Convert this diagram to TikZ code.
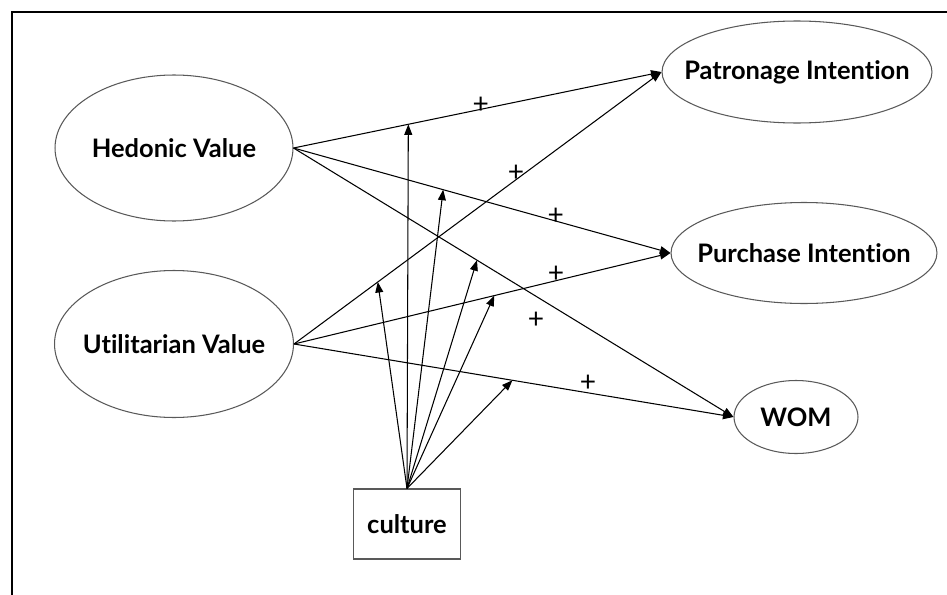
\documentclass[tikz,border=0pt]{standalone}
\usepackage{fontspec}
\setmainfont{Lato}[Ligatures=NoCommon]
\usetikzlibrary{shapes.geometric,arrows.meta}
\begin{document}
\begin{tikzpicture}[x=0.02cm,y=-0.02cm]
\tikzstyle{every node}+=[inner sep=0pt, font=\fontsize{14.5}{17}\selectfont\bfseries]
\tikzstyle{construct}=[draw=black!65, ellipse, line width=0.6pt, inner xsep=-12pt]
\tikzstyle{moderator}=[draw=black!65, rectangle, line width=0.6pt, minimum width=2.14cm, minimum height=1.4cm]
\tikzstyle{link}=[-{Triangle[length=6pt,width=4.5pt]}, line width=0.6pt]
\tikzstyle{sign}=[font=\fontsize{16}{17}\selectfont\mdseries]
\useasboundingbox (0,0) rectangle (947,595);
\draw [line width=1.1pt] (12,595) -- (12,12) -- (947,12);
\node [construct, minimum width=4.76cm, minimum height=2.92cm] (hed) at (174,148) {Hedonic Value};
\node [construct, minimum width=4.78cm, minimum height=2.94cm] (util) at (174,344) {Utilitarian Value};
\node [construct, minimum width=5.4cm, minimum height=2.04cm] (pat) at (797,72) {Patronage Intention};
\node [construct, minimum width=5.32cm, minimum height=2.02cm] (pur) at (804,253) {Purchase Intention};
\node [construct, minimum width=2.48cm, minimum height=1.46cm] (wom) at (796,417) {WOM};
\node [moderator] (cult) at (407,524) {culture};
\draw [link] (hed.east) -- (pat.west) coordinate [pos=0.312] (m1) node [sign, pos=0.509, yshift=2.4pt] {+};
\draw [link] (util.east) -- (pat.west) coordinate [pos=0.228] (m2) node [sign, pos=0.58, xshift=5pt, yshift=7.4pt] {+};
\draw [link] (hed.east) -- (pur.west) coordinate [pos=0.397] (m3) node [sign, pos=0.696, yshift=2.8pt] {+};
\draw [link] (util.east) -- (pur.west) coordinate [pos=0.532] (m4) node [sign, pos=0.696, yshift=3.4pt] {+};
\draw [link] (hed.east) -- (wom.west) coordinate [pos=0.417] (m5) node [sign, pos=0.551, yshift=-13.6pt] {+};
\draw [link] (util.east) -- (wom.west) coordinate [pos=0.497] (m6) node [sign, pos=0.669, yshift=5.7pt] {+};
\foreach \m in {m1,m2,m3,m4,m5,m6}
  \draw [link] (cult.north) -- (\m);
\end{tikzpicture}
\end{document}
